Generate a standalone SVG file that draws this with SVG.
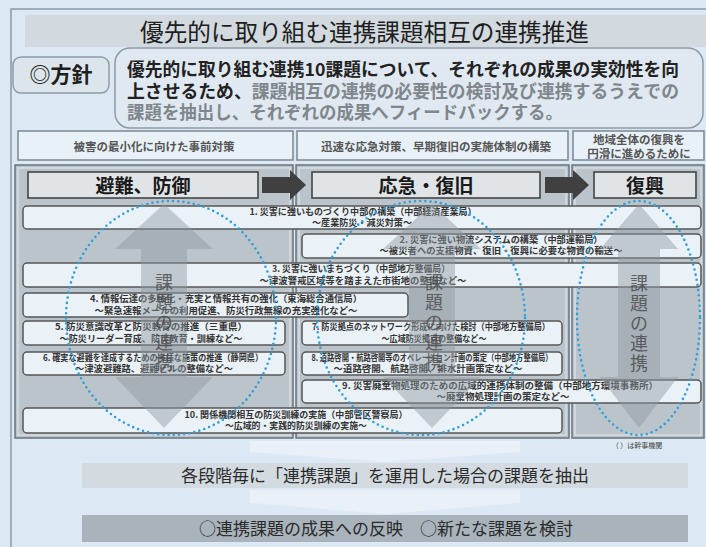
<svg xmlns="http://www.w3.org/2000/svg" width="706" height="547" viewBox="0 0 706 547">
<style>
text{font-family:"Noto Sans CJK JP","Noto Sans CJK SC",sans-serif}
.hdr{fill:#e9f1f8;stroke:#7a8691;stroke-width:1.5}
.hdrt{font-size:11.5px;font-weight:700;fill:#555;text-anchor:middle}
.panel{fill:#bcc4cb;stroke:#69737c;stroke-width:1.5}
.pin{fill:none;stroke:#e4e9ed;stroke-width:1}
.phase{fill:#e0e4e7;stroke:#444;stroke-width:1.6}
.phaset{font-size:19px;font-weight:700;fill:#1a1a1a;text-anchor:middle}
.row{fill:#eaf1f7;stroke:#555;stroke-width:1.5}
.rt{font-size:9px;font-weight:700;fill:#333;text-anchor:middle}
.big{fill:#8f989f;fill-opacity:.45}
.bigt{font-size:18px;fill:#444;fill-opacity:.8;text-anchor:middle}
.ell{fill:none;stroke:#2f9fd8;stroke-width:2.6;stroke-linecap:round;stroke-dasharray:0 5.2}
.band{font-size:17px;fill:#2a2a2a;text-anchor:middle}
</style>
<rect x="0" y="0" width="706" height="547" fill="#dce8f3"/>
<rect x="11" y="9" width="710" height="560" fill="none" stroke="#8b99a5" stroke-width="1.5"/>

<g id="title">
<rect x="25" y="15" width="681" height="32" fill="#d2d9df"/>
<text x="364.5" y="41" font-size="23.5" fill="#1e1e1e" text-anchor="middle" textLength="449" lengthAdjust="spacingAndGlyphs">優先的に取り組む連携課題相互の連携推進</text>
</g>

<g id="policy-label">
<rect x="13" y="57" width="96" height="36" rx="8" fill="#dde5ec" stroke="#8d9aa5" stroke-width="1.5"/>
<text x="61" y="82" font-size="21" font-weight="700" fill="#1e1e1e" text-anchor="middle">◎方針</text>
</g>

<g id="policy">
<rect x="115" y="48" width="588" height="80" rx="15" fill="#e0e9f1" stroke="#8d9aa5" stroke-width="1.5"/>
<text x="127" y="76" font-size="17.8" font-weight="700" fill="#222" textLength="552" lengthAdjust="spacingAndGlyphs">優先的に取り組む連携10課題について、それぞれの成果の実効性を向</text>
<text x="127" y="97.5" font-size="17.8" font-weight="700" fill="#222" textLength="552" lengthAdjust="spacingAndGlyphs"><tspan>上させるため、</tspan><tspan fill="#7f868c">課題相互の連携の必要性の検討及び連携するうえでの</tspan></text>
<text x="127" y="119" font-size="17.8" font-weight="700" fill="#7f868c" textLength="436" lengthAdjust="spacingAndGlyphs">課題を抽出し、それぞれの成果へフィードバックする。</text>
</g>

<g id="header-1">
<rect class="hdr" x="18" y="131" width="275" height="29"/>
<text class="hdrt" x="154" y="151">被害の最小化に向けた事前対策</text>
</g>
<g id="header-2">
<rect class="hdr" x="297" y="131" width="271" height="29"/>
<text class="hdrt" x="436" y="151">迅速な応急対策、早期復旧の実施体制の構築</text>
</g>
<g id="header-3">
<rect class="hdr" x="573" y="131" width="131" height="29"/>
<text class="hdrt" x="639" y="144">地域全体の復興を</text>
<text class="hdrt" x="639" y="157.5">円滑に進めるために</text>
</g>

<g id="panels">
<rect class="panel" x="15" y="165" width="278" height="273"/>
<rect class="pin" x="18" y="168" width="272" height="267"/>
<rect class="panel" x="296" y="165" width="273" height="273"/>
<rect class="pin" x="299" y="168" width="267" height="267"/>
<rect class="panel" x="572" y="165" width="132" height="273"/>
<rect class="pin" x="575" y="168" width="126" height="267"/>
</g>

<g id="phase-1">
<rect class="phase" x="28" y="172" width="230" height="26"/>
<text class="phaset" x="143" y="192.5">避難、防御</text>
</g>
<g id="phase-2">
<rect class="phase" x="312" y="172" width="228" height="26"/>
<text class="phaset" x="426" y="192.5">応急・復旧</text>
</g>
<g id="phase-3">
<rect class="phase" x="594" y="172" width="102" height="26"/>
<text class="phaset" x="645" y="192.5">復興</text>
</g>

<g id="row-1">
<rect class="row" x="23" y="206" width="678" height="23" rx="4"/>
<text class="rt" x="363" y="214.5" textLength="227" lengthAdjust="spacingAndGlyphs">1. 災害に強いものづくり中部の構築（中部経済産業局）</text>
<text class="rt" x="362" y="225.5" textLength="100" lengthAdjust="spacingAndGlyphs">～産業防災・減災対策～</text>
</g>
<g id="row-2">
<rect class="row" x="302" y="234" width="399" height="24" rx="4"/>
<text class="rt" x="501" y="243" textLength="203" lengthAdjust="spacingAndGlyphs">2. 災害に強い物流システムの構築（中部運輸局）</text>
<text class="rt" x="501" y="254" textLength="243" lengthAdjust="spacingAndGlyphs">～被災者への支援物資、復旧・復興に必要な物資の輸送～</text>
</g>
<g id="row-3">
<rect class="row" x="23" y="263" width="678" height="24" rx="4"/>
<text class="rt" x="361" y="272" textLength="178" lengthAdjust="spacingAndGlyphs">3. 災害に強いまちづくり（中部地方整備局）</text>
<text class="rt" x="363" y="283.5" textLength="207" lengthAdjust="spacingAndGlyphs">～津波警戒区域等を踏まえた市街地の整備など～</text>
</g>
<g id="row-4">
<rect class="row" x="23" y="293" width="385" height="24" rx="4"/>
<text class="rt" x="226" y="302" textLength="272" lengthAdjust="spacingAndGlyphs">4. 情報伝達の多様化・充実と情報共有の強化（東海総合通信局）</text>
<text class="rt" x="226" y="313.5" textLength="263" lengthAdjust="spacingAndGlyphs">～緊急速報メールの利用促進、防災行政無線の充実強化など～</text>
</g>
<g id="row-5">
<rect class="row" x="23" y="321" width="262" height="24" rx="4"/>
<text class="rt" x="151" y="330" textLength="192" lengthAdjust="spacingAndGlyphs">5. 防災意識改革と防災教育の推進（三重県）</text>
<text class="rt" x="151" y="341.5" textLength="183" lengthAdjust="spacingAndGlyphs">～防災リーダー育成、防災教育・訓練など～</text>
</g>
<g id="row-6">
<rect class="row" x="23" y="352" width="262" height="23" rx="4"/>
<text class="rt" x="153" y="361" textLength="220" lengthAdjust="spacingAndGlyphs">6. 確実な避難を達成するための多様な施策の推進（静岡県）</text>
<text class="rt" x="154" y="372" textLength="158" lengthAdjust="spacingAndGlyphs">～津波避難路、避難ビルの整備など～</text>
</g>
<g id="row-7">
<rect class="row" x="302" y="321" width="260" height="24" rx="4"/>
<text class="rt" x="431" y="330" textLength="238" lengthAdjust="spacingAndGlyphs">7. 防災拠点のネットワーク形成に向けた検討（中部地方整備局）</text>
<text class="rt" x="434" y="341.5" textLength="105" lengthAdjust="spacingAndGlyphs">～広域防災拠点の整備など～</text>
</g>
<g id="row-8">
<rect class="row" x="302" y="352" width="260" height="23" rx="4"/>
<text class="rt" x="432" y="361" textLength="241" lengthAdjust="spacingAndGlyphs">8. 道路啓開・航路啓開等のオペレーション計画の策定（中部地方整備局）</text>
<text class="rt" x="428" y="372" textLength="189" lengthAdjust="spacingAndGlyphs">～道路啓開、航路啓開、排水計画策定など～</text>
</g>
<g id="row-9">
<rect class="row" x="302" y="380" width="399" height="23" rx="4"/>
<text class="rt" x="500" y="389" textLength="316" lengthAdjust="spacingAndGlyphs">9. 災害廃棄物処理のための広域的連携体制の整備（中部地方環境事務所）</text>
<text class="rt" x="503" y="400" textLength="133" lengthAdjust="spacingAndGlyphs">～廃棄物処理計画の策定など～</text>
</g>
<g id="row-10">
<rect class="row" x="23" y="408" width="539" height="25" rx="4"/>
<text class="rt" x="296" y="418" textLength="223" lengthAdjust="spacingAndGlyphs">10. 関係機関相互の防災訓練の実施（中部管区警察局）</text>
<text class="rt" x="296" y="429" textLength="142" lengthAdjust="spacingAndGlyphs">～広域的・実践的防災訓練の実施～</text>
</g>

<g id="connectors">
<path fill="#404040" d="M262,177 H290 V170 L306,185 L290,200 V193 H262 Z"/>
<path fill="#404040" d="M545,177 H573 V170 L589,185 L573,200 V193 H545 Z"/>
<path class="big" d="M164,204 L213,249 L187,249 L187,377 L213,377 L164,428 L115,377 L141,377 L141,249 L115,249 Z"/>
<path class="big" d="M432,204 L481,249 L455,249 L455,377 L481,377 L432,428 L383,377 L409,377 L409,249 L383,249 Z"/>
<path class="big" d="M639,204 L678,249 L660,249 L660,377 L678,377 L639,428 L600,377 L618,377 L618,249 L600,249 Z"/>
<path fill="#eef4fa" fill-opacity=".7" d="M250,441 H520 V452 L385,462 L250,452 Z"/>
<path fill="#eef4fa" fill-opacity=".7" d="M250,490 H520 V503 L385,514 L250,503 Z"/>
</g>

<g id="link-labels">
<text class="bigt"><tspan x="164" y="289">課</tspan><tspan x="164" y="309">題</tspan><tspan x="164" y="329">の</tspan><tspan x="164" y="349">連</tspan><tspan x="164" y="369">携</tspan></text>
<text class="bigt"><tspan x="434" y="289">課</tspan><tspan x="434" y="309">題</tspan><tspan x="434" y="329">の</tspan><tspan x="434" y="349">連</tspan><tspan x="434" y="369">携</tspan></text>
<text class="bigt"><tspan x="639" y="290">課</tspan><tspan x="639" y="310">題</tspan><tspan x="639" y="330">の</tspan><tspan x="639" y="350">連</tspan><tspan x="639" y="370">携</tspan></text>
</g>

<g id="groupings">
<ellipse class="ell" cx="171" cy="318" rx="105" ry="117"/>
<ellipse class="ell" cx="421" cy="318" rx="104" ry="117"/>
<ellipse class="ell" cx="638.5" cy="318" rx="61.5" ry="117"/>
</g>

<g id="note">
<text x="637" y="448" font-size="7" fill="#444" text-anchor="middle">（ ）は幹事機関</text>
</g>

<g id="band-1">
<rect x="82" y="463" width="606" height="25" fill="#d3dbe1"/>
<text class="band" x="385" y="482">各段階毎に「連携課題」を運用した場合の課題を抽出</text>
</g>
<g id="band-2">
<rect x="82" y="515" width="606" height="27" fill="#a9b3bb"/>
<text class="band" x="386" y="534.5">○連携課題の成果への反映　○新たな課題を検討</text>
</g>
</svg>
